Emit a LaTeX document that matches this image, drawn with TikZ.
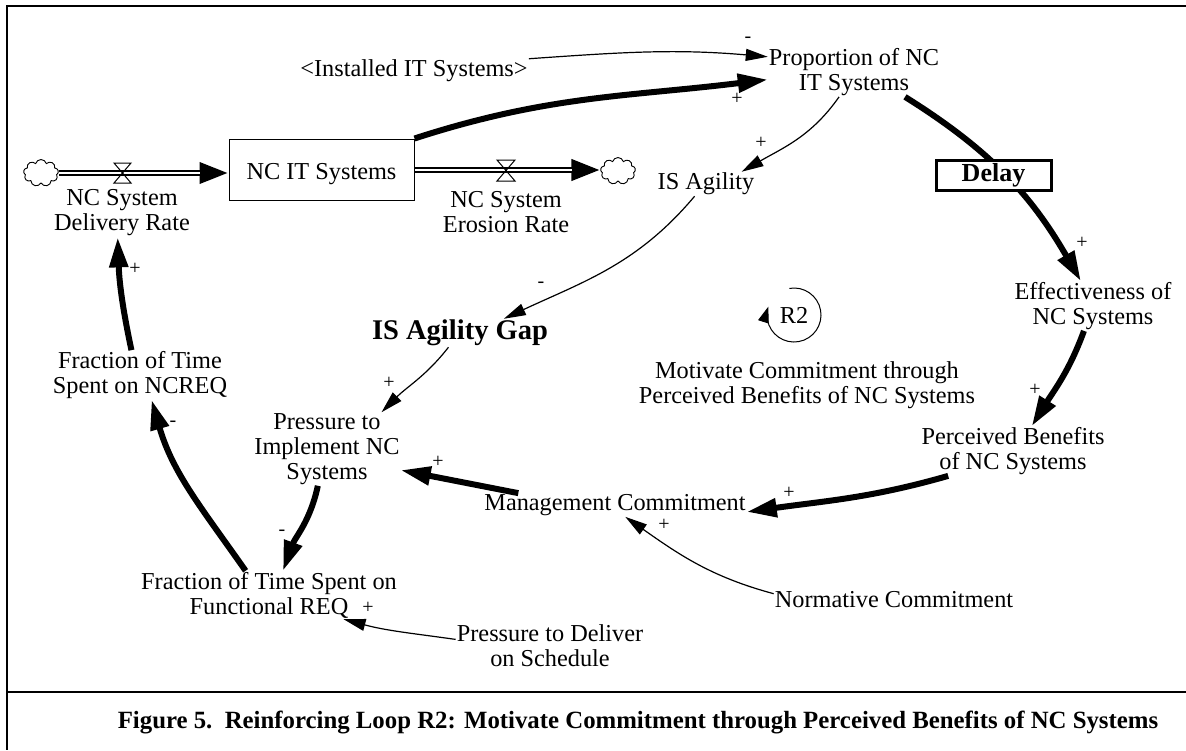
\documentclass[tikz,border=0pt]{standalone}
\usepackage{fontspec}
\setmainfont{Liberation Serif}
\usetikzlibrary{arrows.meta,shapes.symbols}
\pgfdeclarelayer{bg}
\pgfsetlayers{bg,main}
\begin{document}
\begin{tikzpicture}[x=1pt,y=1pt,
  lbl/.style={font=\fontsize{24.3}{25}\selectfont, align=center, inner sep=1pt},
  bld/.style={font=\fontsize{28.5}{30}\selectfont\bfseries, inner sep=1pt},
  sgn/.style={font=\fontsize{20}{20}\selectfont, inner sep=0pt},
  lnk/.style={line width=1.2pt, -{Triangle[length=22pt,width=12pt]}},
  blk/.style={line width=6pt, -{Triangle[length=30pt,width=18pt]}},
  pipe/.style={line width=6.5pt, -{Triangle[length=29pt,width=20pt]}},
  pipein/.style={white, line width=2.6pt},
  valve/.style={line width=1pt},
  cloudnode/.style={cloud, cloud puffs=9, cloud ignores aspect, draw, line width=0.9pt, minimum width=35pt, minimum height=27pt, inner sep=0pt},
  frame/.style={line width=2.5pt}
]
\useasboundingbox (0,0) rectangle (1186,-750);

% frame
\draw[frame] (1186,-6) -- (7,-6) -- (7,-750);
\draw[frame] (7,-692) -- (1186,-692);

% stock and flows
\node[draw, line width=1pt, minimum width=185pt, minimum height=61pt, lbl, text height=22pt, text depth=2pt] (box) at (321.5,-169.5) {NC IT Systems};
\node[cloudnode] (cloudL) at (41,-173) {};
\node[cloudnode] (cloudR) at (618,-171) {};
\coordinate (inbase) at (200,-173);
\coordinate (outbase) at (572,-170);
\begin{pgfonlayer}{bg}
\draw[pipe] (cloudL.east) -- (box.west |- cloudL.east);
\draw[pipein] (cloudL.east) -- (inbase);
\draw[pipe] (box.east |- outbase) -- (cloudR.west |- outbase);
\draw[pipein] (box.east |- outbase) -- (outbase);
\end{pgfonlayer}
\draw[valve] (114,-163) -- (131,-163) -- (114,-183) -- (131,-183) -- cycle;
\draw[valve] (497,-160) -- (515,-160) -- (497,-181) -- (515,-181) -- cycle;

% variables
\node[lbl] (delrate) at (122,-213) {NC System\\Delivery Rate};
\node[lbl] (erorate) at (506,-212) {NC System\\Erosion Rate};
\node[lbl] (inst) at (414,-71) {<Installed IT Systems>};
\node[lbl] (prop) at (854,-72) {Proportion of NC\\IT Systems};
\node[lbl] (isag) at (706,-184) {IS Agility};
\node[bld] (gap) at (460,-333) {IS Agility Gap};
\node[lbl] (effect) at (1093,-306) {Effectiveness of\\NC Systems};
\node[lbl] (perc) at (1013,-451) {Perceived Benefits\\of NC Systems};
\node[lbl] (mgmt) at (615,-505) {Management Commitment};
\node[lbl] (norm) at (894,-600) {Normative Commitment};
\node[lbl] (press) at (327,-449) {Pressure to\\Implement NC\\Systems};
\node[lbl] (func) at (269,-595) {Fraction of Time Spent on\\Functional REQ};
\node[lbl] (pdel) at (550,-646) {Pressure to Deliver\\on Schedule};
\node[lbl] (ncreq) at (140,-375) {Fraction of Time\\Spent on NCREQ};
\node[lbl] (motiv) at (807,-385) {Motivate Commitment through\\Perceived Benefits of NC Systems};

% loop marker
\node[lbl] (r2) at (794,-315) {R2};
\draw[line width=1pt, -{Triangle[length=16pt,width=11pt]}] (r2.center) ++(100:27) arc[start angle=100, end angle=-198, radius=27];

% links
\draw[blk] (box.north east) to[out=18,in=187] (prop.185);
\draw[lnk] (inst.north east) to[out=4,in=175] (prop.170);
\draw[lnk] (prop.-121) to[out=-125,in=30] (isag.19);
\draw[blk] (prop.-26) to[out=-32,in=120] (effect.116);
\node[draw, fill=white, line width=3pt, minimum width=115pt, minimum height=30pt, inner sep=0pt,
  font=\fontsize{26}{26}\selectfont\bfseries] (delay) at (993.5,-175) {Delay};
\draw[lnk] (isag.-133) to[out=-130,in=25] (gap.18);
\draw[lnk] (gap.-129) to[out=-128,in=45] (press.34);
\draw[blk] (mgmt.173) -- (press.-16);
\draw[blk] (perc.201) to[out=196,in=8] (mgmt.-3);
\draw[blk] (effect.-110) to[out=-110,in=58] (perc.53);
\draw[lnk] (norm.177) to[out=165,in=-35] (mgmt.-49);
\draw[lnk] (pdel.176) to[out=172,in=-15] (func.-18);
\draw[blk] (press.-104) to[out=-102,in=70] (func.60);
\draw[blk] (func.134) to[out=125,in=-74] (ncreq.-65);
\draw[blk] (ncreq.109) to[out=102,in=-88] (delrate.-100);

% polarity signs
\node[sgn] (s1) at (748,-40) {-};
\node[sgn] (s2) at (737,-99) {+};
\node[sgn] (s3) at (761,-143) {+};
\node[sgn] (s4) at (1082,-243) {+};
\node[sgn] (s5) at (541,-285) {-};
\node[sgn] (s6) at (389,-383) {+};
\node[sgn] (s7) at (438,-462) {+};
\node[sgn] (s8) at (789,-493) {+};
\node[sgn] (s9) at (1035,-390) {+};
\node[sgn] (s10) at (664,-525) {+};
\node[sgn] (s11) at (368,-608) {+};
\node[sgn] (s12) at (282,-533) {-};
\node[sgn] (s13) at (173,-424) {-};
\node[sgn] (s14) at (135,-269) {+};

% caption
\node[font=\fontsize{24.8}{26}\selectfont\bfseries, inner sep=0pt] (cap) at (638,-722)
  {Figure 5.\ \ Reinforcing Loop R2: Motivate Commitment through Perceived Benefits of NC Systems};
\end{tikzpicture}
\end{document}
